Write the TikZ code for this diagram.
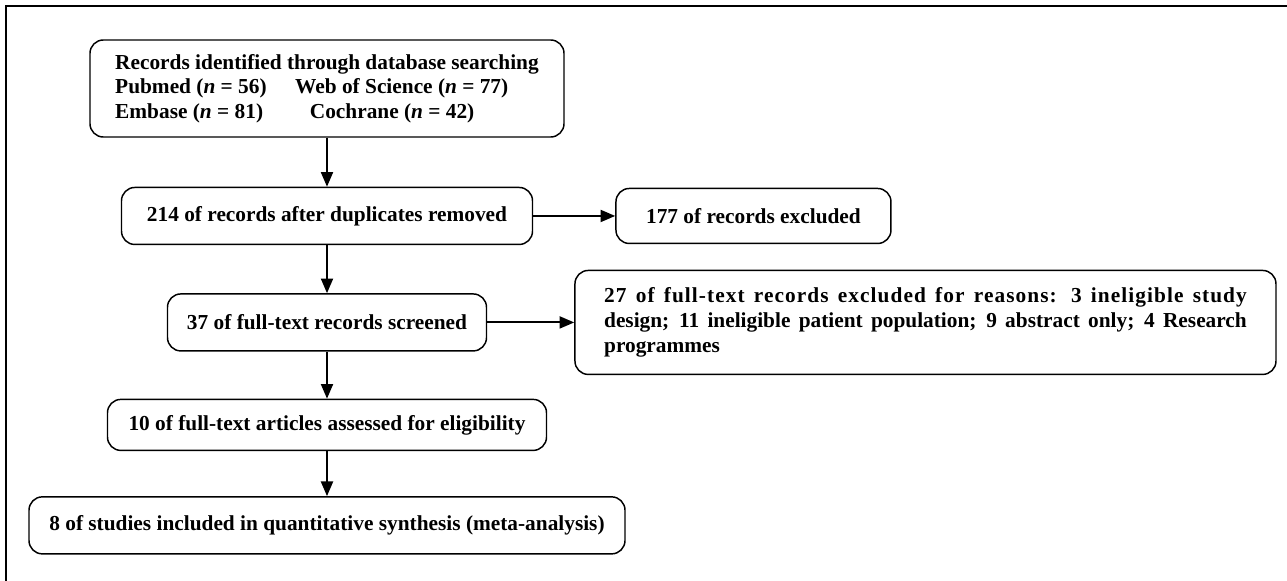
\documentclass[tikz,border=0pt]{standalone}
\usepackage{fontspec}
\setmainfont{Liberation Serif}
\usetikzlibrary{arrows.meta}
\usetikzlibrary{positioning}
\tikzset{
    stage/.style={
           rectangle,
           rounded corners=10pt,
           draw=black, line width=1.1pt,
           inner sep=2pt,
           text centered,
           font=\fontsize{16pt}{18.5pt}\selectfont\bfseries,
           },
    flow/.style={-{Triangle[length=11pt,width=9pt]}, line width=1.5pt},
}

\begin{document}
\begin{tikzpicture}[x=0.75pt,y=-0.75pt]
      \useasboundingbox (0,0) rectangle (1287,581);
      \draw[line width=1.5pt] (6,581) -- (6,6) -- (1287,6);
      \node[stage, minimum width=355.5pt, minimum height=72.75pt, align=left] (ident) at (327,88.5)
        {Records identified through database searching\\
         \makebox[135pt][l]{Pubmed (\textit{n} = 56)}Web of Science (\textit{n} = 77)\\
         \makebox[146pt][l]{Embase (\textit{n} = 81)}Cochrane (\textit{n} = 42)};
      \node[stage, minimum width=308.25pt, minimum height=42.75pt] (dup) [below=36.75pt of ident]
        {214 of records after duplicates removed};
      \node[stage, minimum width=206.25pt, minimum height=41.25pt] (excl1) [right=61.5pt of dup]
        {177 of records excluded};
      \node[stage, minimum width=239.25pt, minimum height=42.75pt] (scr) [below=36pt of dup]
        {37 of full-text records screened};
      \node[stage, minimum width=525.75pt, minimum height=78pt, text width=482pt, align=justify] (excl2) [right=65.25pt of scr]
        {{\addfontfeature{LetterSpace=5}27 of full-text records excluded for reasons: 3 ineligible study}\linebreak
         design; 11 ineligible patient population; 9 abstract only; 4 Research\linebreak
         programmes};
      \node[stage, minimum width=329.25pt, minimum height=38.25pt] (elig) [below=35.25pt of scr]
        {10 of full-text articles assessed for eligibility};
      \node[stage, minimum width=447pt, minimum height=42.75pt] (incl) [below=33.75pt of elig]
        {8 of studies included in quantitative synthesis (meta-analysis)};
      \draw[flow] (ident) -- (dup);
      \draw[flow] (dup) -- (excl1);
      \draw[flow] (dup) -- (scr);
      \draw[flow] (scr) -- (excl2);
      \draw[flow] (scr) -- (elig);
      \draw[flow] (elig) -- (incl);
\end{tikzpicture}
\end{document}
